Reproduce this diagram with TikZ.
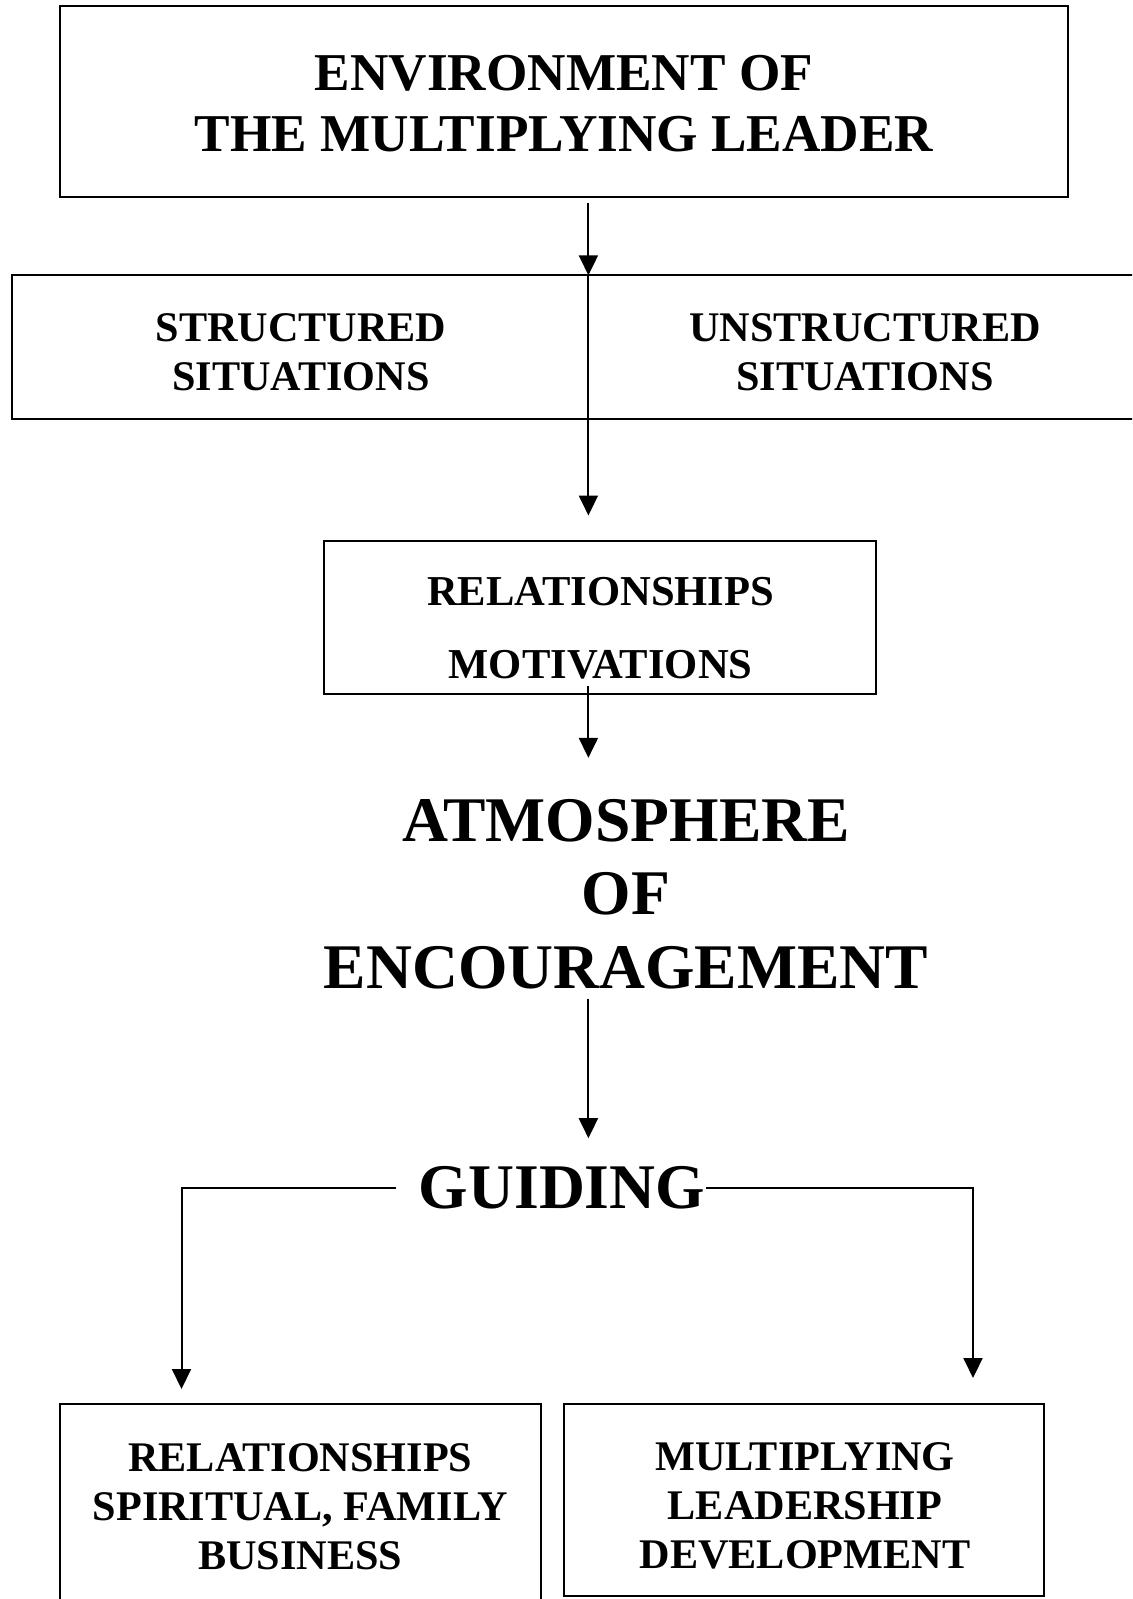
\documentclass[tikz,border=0pt]{standalone}
\usepackage{fontspec}
\setmainfont{Liberation Serif}
\usepackage{tikz}
\usetikzlibrary{positioning, calc, arrows.meta}

\begin{document}
\begin{tikzpicture}[
        x=0.5pt, y=-0.5pt,
        % Define block styles
        box/.style={draw, rectangle, line width=1pt, inner sep=0pt, outer sep=0pt, align=center},
        smalltext/.style={font=\fontsize{21.1}{24.5}\selectfont\bfseries},
        bigtext/.style={inner sep=0pt, align=center, font=\fontsize{31.8}{36.7}\selectfont\bfseries},
        arrow/.style={draw, line width=1pt, -{Triangle[length=10pt, width=9.5pt]}}
    ]

    \useasboundingbox (0,0) rectangle (1132,1599);
    \clip (0,0) rectangle (1132,1599);

    % --- Nodes Placement ---
    \node[box, minimum width=503.75pt, minimum height=95.35pt] (envbox) at (564,101.5) {};
    \node[align=center, inner sep=0pt, font=\fontsize{26.6}{30.6}\selectfont\bfseries] (envtext) at (564,103.5)
        {ENVIRONMENT OF\\THE MULTIPLYING LEADER};

    % Two situation boxes side by side (right one runs off the page)
    \node[box, minimum width=288.1pt, minimum height=71.9pt] (strbox) at (300.3,347.2) {};
    \node[box, minimum width=280.8pt, minimum height=71.9pt, right=0pt of strbox] (unstrbox) {};
    \node[align=center, inner sep=0pt, smalltext] (strtext) at (301,352) {STRUCTURED\\SITUATIONS};
    \node[align=center, inner sep=0pt, smalltext] (unstrtext) at (865,352) {UNSTRUCTURED\\SITUATIONS};

    % Box with its text set a bit low
    \node[box, minimum width=275.85pt, minimum height=76.5pt] (relbox) at (600.2,617) {};
    \node[align=center, inner sep=0pt, font=\fontsize{21.3}{36.7}\selectfont\bfseries] (reltext) at (600.6,628)
        {RELATIONSHIPS\\MOTIVATIONS};

    \node[bigtext] (atmos) at (626,894) {ATMOSPHERE\\OF\\ENCOURAGEMENT};

    \node[bigtext] (guiding) at (562,1188) {GUIDING};

    % Bottom boxes
    \node[box, smalltext, minimum width=240.15pt, minimum height=103pt] (bizbox) at (300.35,1507)
        {RELATIONSHIPS\\SPIRITUAL, FAMILY\\BUSINESS};
    \node[box, minimum width=240pt, minimum height=96pt,
        below right=0pt and 11.75pt of bizbox.north east] (devbox) {};
    \node[align=center, inner sep=0pt, smalltext] (devtext) at (805,1506)
        {MULTIPLYING\\LEADERSHIP\\DEVELOPMENT};

    % Arrow ends above the bottom boxes
    \coordinate (ltip) at (181.5,1389);
    \coordinate (rtip) at (973,1378);

    % --- Connections / Arrows ---
    \draw[arrow, shorten <=3pt] (envbox.south -| strbox.east) -- (strbox.north east);
    \draw[arrow, shorten >=12.5pt] (strbox.north east) -- (strbox.east |- relbox.north);
    \draw[arrow, shorten <=-4pt, shorten >=20.5pt] (relbox.south -| strbox.east) -- (strbox.east |- atmos.north);
    \draw[arrow, shorten <=5pt, shorten >=14pt] (atmos.south -| strbox.east) -- (strbox.east |- guiding.north);

    % Guiding branches
    \draw[arrow, shorten <=11pt] (guiding.west) -| (ltip);
    \draw[arrow] (guiding.east) -| (rtip);

\end{tikzpicture}
\end{document}
